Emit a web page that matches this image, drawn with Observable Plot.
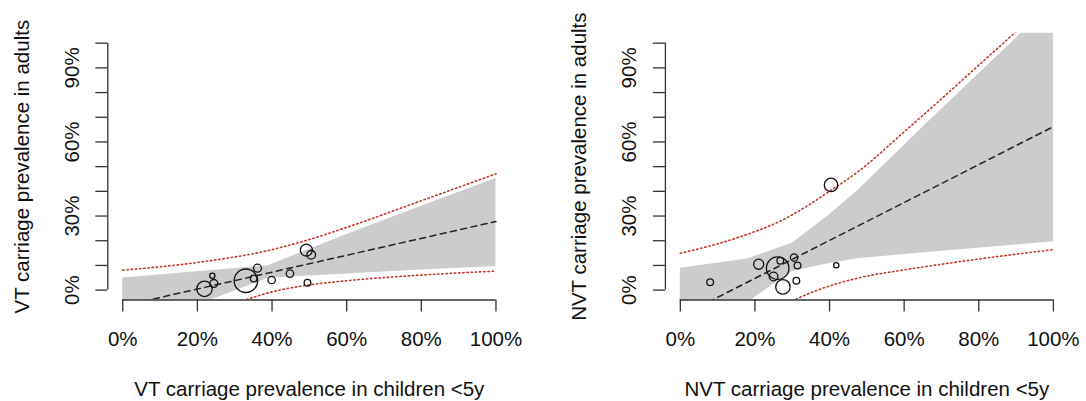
<!DOCTYPE html>
<html>
<head>
<meta charset="utf-8">
<script src="https://cdn.jsdelivr.net/npm/d3@7"></script>
<script src="https://cdn.jsdelivr.net/npm/@observablehq/plot@0.6"></script>
<style>
  html, body { margin: 0; padding: 0; background: #fff; }
  #row { display: flex; width: 1086px; height: 401px; }
  #row svg { flex: none; }
</style>
</head>
<body>
<div id="row"></div>
<script>
// ---------- tick values ----------
const xTicks = [0, 0.2, 0.4, 0.6, 0.8, 1];
const yTicks = [0, 0.1, 0.2, 0.3, 0.4, 0.5, 0.6, 0.7, 0.8, 0.9, 1];
const yTickLabels = [0, 0.3, 0.6, 0.9];

// ---------- VT panel ----------
const vtXTitle = "VT carriage prevalence in children <5y";
const vtYTitle = "VT carriage prevalence in adults";
const vtChild  = [0.219, 0.240, 0.244, 0.330, 0.351, 0.361, 0.399, 0.448, 0.492, 0.505, 0.495];
const vtAdult  = [0.005, 0.058, 0.027, 0.038, 0.047, 0.089, 0.041, 0.067, 0.162, 0.143, 0.030];
const vtWeight = [0.64, 0.22, 0.33, 0.98, 0.28, 0.33, 0.31, 0.31, 0.50, 0.36, 0.28];
const vtFitX   = [0, 1];
const vtFitY   = [-0.064, 0.278];
const vtBandX  = [0, 0.2, 0.39, 0.6, 0.8, 1];
const vtBandLo = [-0.176, -0.061, 0.048, 0.065, 0.081, 0.096];
const vtBandHi = [0.049, 0.074, 0.099, 0.225, 0.340, 0.452];
const vtPiUpX  = [0, 0.2, 0.4, 0.5, 0.6, 0.8, 1];
const vtPiUpY  = [0.081, 0.112, 0.164, 0.205, 0.254, 0.362, 0.471];
const vtPiLoX  = [0.3, 0.4, 0.5, 0.6, 0.8, 1];
const vtPiLoY  = [-0.055, -0.007, 0.021, 0.038, 0.061, 0.077];

// ---------- NVT panel ----------
const nvtXTitle = "NVT carriage prevalence in children <5y";
const nvtYTitle = "NVT carriage prevalence in adults";
const nvtChild  = [0.404, 0.210, 0.261, 0.268, 0.250, 0.275, 0.305, 0.314, 0.311, 0.418, 0.080];
const nvtAdult  = [0.426, 0.105, 0.089, 0.119, 0.055, 0.013, 0.132, 0.100, 0.038, 0.101, 0.032];
const nvtWeight = [0.56, 0.42, 0.94, 0.28, 0.36, 0.60, 0.31, 0.28, 0.28, 0.22, 0.28];
const nvtFitX   = [0, 1];
const nvtFitY   = [-0.106, 0.662];
const nvtBandX  = [0, 0.18, 0.3, 0.4, 0.48, 0.67, 0.9, 1];
const nvtBandLo = [-0.236, -0.050, 0.075, 0.108, 0.128, 0.153, 0.183, 0.196];
const nvtBandHi = [0.089, 0.126, 0.190, 0.305, 0.410, 0.689, 1.020, 1.170];
const nvtPiUpX  = [0, 0.16, 0.27, 0.4, 0.48, 0.6, 0.67, 0.8, 0.9, 1];
const nvtPiUpY  = [0.149, 0.216, 0.281, 0.400, 0.484, 0.641, 0.734, 0.911, 1.047, 1.190];
const nvtPiLoX  = [0.28, 0.31, 0.4, 0.48, 0.6, 0.67, 0.8, 1];
const nvtPiLoY  = [-0.060, -0.037, 0.017, 0.050, 0.082, 0.098, 0.126, 0.164];

// ---------- helpers ----------
const pct = d => Math.round(d * 100) + "%";
const zip = (xs, ys) => xs.map((x, i) => ({x, y: ys[i]}));
const domain = [-0.04, 1.04];
const FONT = "'Liberation Sans', Arial, sans-serif";
const RED = "#c0392f";

function panel(p, layout) {
  const pts = p.child.map((c, i) => ({x: c, y: p.adult[i], w: p.weight[i]}));
  const band = p.bandX.map((x, i) => ({x, lo: p.bandLo[i], hi: p.bandHi[i]}));
  return Plot.plot({
    width: 543,
    height: 401,
    marginLeft: layout.left,
    marginRight: layout.right,
    marginTop: 32.8,
    marginBottom: 101.5,
    x: {domain},
    y: {domain},
    r: {type: "linear", domain: [0, 1], range: [0, 12]},
    style: {fontFamily: FONT, fontSize: "20.5px", color: "#111", background: "#fff", overflow: "visible"},
    marks: [
      Plot.areaY(band, {x: "x", y1: "lo", y2: "hi", fill: "#cccccc", clip: true}),
      Plot.line(zip(p.piUpX, p.piUpY), {x: "x", y: "y", curve: "monotone-x", stroke: RED,
        strokeWidth: 1.6, strokeDasharray: "1.4,2.8", clip: true}),
      Plot.line(zip(p.piLoX, p.piLoY), {x: "x", y: "y", curve: "monotone-x", stroke: RED,
        strokeWidth: 1.6, strokeDasharray: "1.4,2.8", clip: true}),
      Plot.line(zip(p.fitX, p.fitY), {x: "x", y: "y", stroke: "#222", strokeWidth: 1.5,
        strokeDasharray: "6,4.5", clip: true}),
      Plot.dot(pts, {x: "x", y: "y", r: "w", stroke: "#111", strokeWidth: 1.3, fill: "none"}),
      // axes
      Plot.ruleY([domain[0]], {x1: xTicks[0], x2: xTicks[xTicks.length - 1], stroke: "#333", strokeWidth: 1.3}),
      Plot.ruleX([domain[0]], {y1: yTicks[0], y2: yTicks[yTicks.length - 1], stroke: "#333", strokeWidth: 1.3}),
      Plot.axisX({ticks: xTicks, tickSize: 12, tickPadding: 19, tickFormat: pct, label: null,
        stroke: "#333", strokeWidth: 1.3, fill: "#111"}),
      Plot.axisY({ticks: yTicks, tickSize: 12, tickFormat: () => "", label: null,
        stroke: "#333", strokeWidth: 1.3}),
      Plot.text(yTickLabels, {y: d => d, text: pct, frameAnchor: "left", dx: -29, rotate: -90,
        lineAnchor: "bottom", textAnchor: "middle", fill: "#111"}),
      Plot.text([p.xTitle], {text: d => d, frameAnchor: "bottom", dy: 95.5, lineAnchor: "bottom",
        textAnchor: "middle", fill: "#111"}),
      Plot.text([p.yTitle], {text: d => d, frameAnchor: "left", dx: -79, rotate: -90,
        lineAnchor: "bottom", textAnchor: "middle", fill: "#111"})
    ]
  });
}

const row = document.getElementById("row");
row.append(panel({
  child: vtChild, adult: vtAdult, weight: vtWeight,
  fitX: vtFitX, fitY: vtFitY,
  bandX: vtBandX, bandLo: vtBandLo, bandHi: vtBandHi,
  piUpX: vtPiUpX, piUpY: vtPiUpY, piLoX: vtPiLoX, piLoY: vtPiLoY,
  xTitle: vtXTitle, yTitle: vtYTitle
}, {left: 107.3, right: 32.6}));
row.append(panel({
  child: nvtChild, adult: nvtAdult, weight: nvtWeight,
  fitX: nvtFitX, fitY: nvtFitY,
  bandX: nvtBandX, bandLo: nvtBandLo, bandHi: nvtBandHi,
  piUpX: nvtPiUpX, piUpY: nvtPiUpY, piLoX: nvtPiLoX, piLoY: nvtPiLoY,
  xTitle: nvtXTitle, yTitle: nvtYTitle
}, {left: 121.9, right: 18.2}));
</script>
</body>
</html>
